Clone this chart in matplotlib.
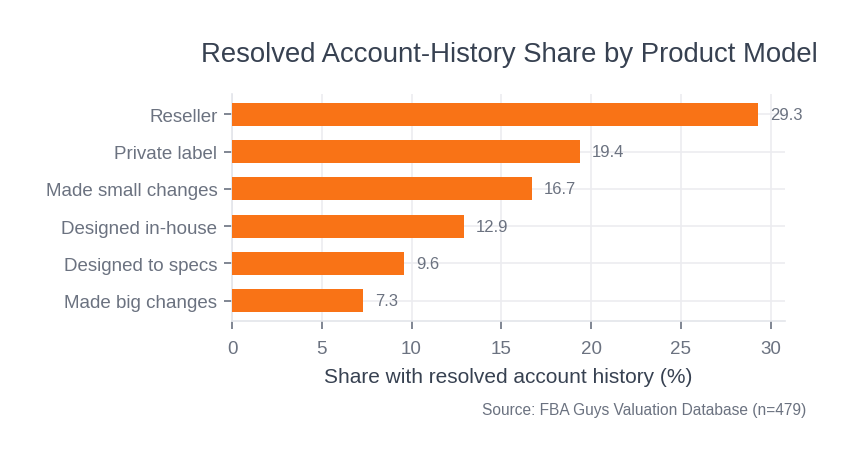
import matplotlib.pyplot as plt

# data (bottom-to-top order reversed for barh)
categories = ['Reseller', 'Private label', 'Made small changes',
              'Designed in-house', 'Designed to specs', 'Made big changes']
values = [29.3, 19.4, 16.7, 12.9, 9.6, 7.3]

plt.rcParams['font.family'] = ['Liberation Sans', 'DejaVu Sans']

fig = plt.figure(figsize=(8.63, 4.64), dpi=100)
ax = fig.add_axes([232 / 863, 1 - 322 / 464, (785 - 232) / 863, (322 - 95) / 464])

ypos = list(range(len(categories)))[::-1]
ax.barh(ypos, values, height=0.62, color='#F97316', zorder=3)

for y, v in zip(ypos, values):
    ax.text(v + 0.65, y, f'{v:.1f}', va='center', ha='left',
            fontsize=12, color='#6B7280')

ax.set_yticks(ypos)
ax.set_yticklabels(categories)
ax.set_ylim(-0.55, 5.55)
ax.set_xlim(0, 30.8)
ax.set_xticks([0, 5, 10, 15, 20, 25, 30])

ax.grid(True, color='#ECECF0', linewidth=1.2, zorder=0)
ax.set_axisbelow(True)
for s in ['top', 'right']:
    ax.spines[s].set_visible(False)
for s in ['left', 'bottom']:
    ax.spines[s].set_color('#E3E5EA')
    ax.spines[s].set_linewidth(1.2)
ax.tick_params(axis='both', labelsize=13.5, length=6, width=1.2)
ax.tick_params(axis='y', labelcolor='#6B7280', color='#6B7280', pad=4.5)
ax.tick_params(axis='x', labelcolor='#6B7280', color='#6B7280', pad=8)

ax.set_xlabel('Share with resolved account history (%)', fontsize=15,
              color='#374151', labelpad=7)

fig.text(509 / 863, 1 - 55 / 464, 'Resolved Account-History Share by Product Model',
         ha='center', va='center', fontsize=19.8, color='#374151')
fig.text(806 / 863, 1 - 411 / 464, 'Source: FBA Guys Valuation Database (n=479)',
         ha='right', va='center', fontsize=11.2, color='#6B7280')

fig.savefig('out.png', dpi=100)
